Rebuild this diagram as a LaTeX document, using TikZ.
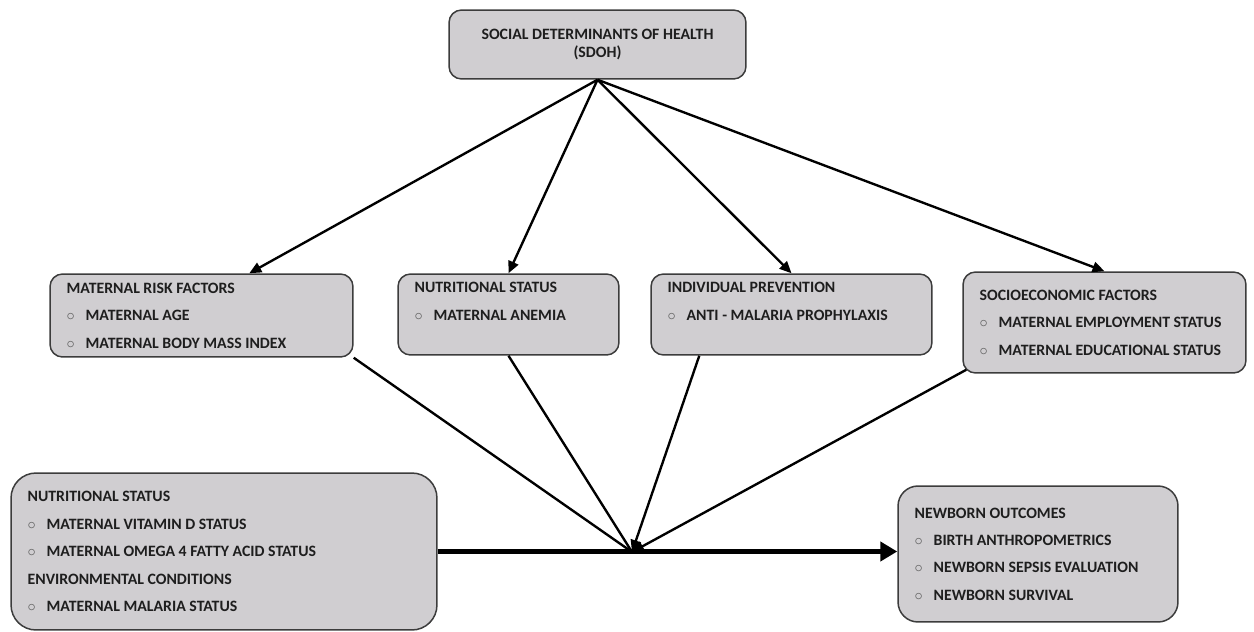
\documentclass[tikz,border=0pt]{standalone}
\usepackage{fontspec}
\setmainfont{Carlito}
\usetikzlibrary{positioning, arrows.meta, calc}
\definecolor{cBox}{RGB}{208, 206, 209}
\definecolor{cBorder}{RGB}{60, 60, 60}
\definecolor{cText}{RGB}{30, 30, 30}
\definecolor{cBullet}{RGB}{95, 95, 95}

\begin{document}
\begin{tikzpicture}[
    x=0.02cm,
    y=-0.02cm,
    font=\bfseries\fontsize{9}{15.6}\selectfont,
    factor/.style={draw=cBorder, line width=0.85pt, fill=cBox, rounded corners=0.25cm, inner sep=0pt},
    factortext/.style={align=left, text=cText, inner xsep=0.34cm, inner ysep=0pt},
    link/.style={line width=1.35pt},
    linkarrow/.style={line width=1.35pt, -{Triangle[length=2.4mm, width=2.1mm]}}
]

    % --- Makro fuer Aufzaehlungspunkte ---
    \newcommand{\bulletItem}[1]{\makebox[0.38cm][l]{\textcolor{cBullet}{$\circ$}}#1}

    \useasboundingbox (0,0) rectangle (1254,632);

    % OBEN: SDOH
    \node[factor, align=center, text=cText, font=\bfseries\fontsize{9}{10.8}\selectfont,
          minimum width=5.94cm, minimum height=1.38cm] (sdoh) at (597.5,44.5)
          {SOCIAL DETERMINANTS OF HEALTH\\(SDOH)};

    % MITTE: vier Faktoren
    \node[factor, minimum width=6.06cm, minimum height=1.66cm] (maternal) at (201.5,315.5) {};
    \node[factortext, right=0pt of maternal.west] (maternal_text)
          {MATERNAL RISK FACTORS\\\bulletItem{MATERNAL AGE}\\\bulletItem{MATERNAL BODY MASS INDEX}};

    \node[factor, minimum width=4.42cm, minimum height=1.62cm] (nutrition) at (508.5,314.5) {};
    \node[factortext, anchor=north west] (nutrition_text) at ($(nutrition.north west)+(0,9)$)
          {NUTRITIONAL STATUS\\\bulletItem{MATERNAL ANEMIA}};

    \node[factor, minimum width=5.62cm, minimum height=1.62cm] (prevention) at (791.5,314.5) {};
    \node[factortext, anchor=north west] (prevention_text) at ($(prevention.north west)+(0,9)$)
          {INDIVIDUAL PREVENTION\\\bulletItem{ANTI - MALARIA PROPHYLAXIS}};

    \node[factor, minimum width=5.66cm, minimum height=2.02cm] (socio) at (1104.5,322.5) {};
    \node[factortext, right=0pt of socio.west] (socio_text)
          {SOCIOECONOMIC FACTORS\\\bulletItem{MATERNAL EMPLOYMENT STATUS}\\\bulletItem{MATERNAL EDUCATIONAL STATUS}};

    % UNTEN: Exposition und Outcome
    \node[factor, rounded corners=0.5cm, minimum width=8.52cm, minimum height=3.14cm] (nutenv) at (224,551.5) {};
    \node[factortext, right=0pt of nutenv.west] (nutenv_text)
          {NUTRITIONAL STATUS\\\bulletItem{MATERNAL VITAMIN D STATUS}\\\bulletItem{MATERNAL OMEGA 4 FATTY ACID STATUS}\\ENVIRONMENTAL CONDITIONS\\\bulletItem{MATERNAL MALARIA STATUS}};

    \node[factor, rounded corners=0.4cm, minimum width=5.6cm, minimum height=2.72cm] (newborn) at (1038,554) {};
    \node[factortext, right=0pt of newborn.west] (newborn_text)
          {NEWBORN OUTCOMES\\\bulletItem{BIRTH ANTHROPOMETRICS}\\\bulletItem{NEWBORN SEPSIS EVALUATION}\\\bulletItem{NEWBORN SURVIVAL}};

    % Pfeile von SDOH nach unten
    \draw[linkarrow] (sdoh.south) -- ($(maternal.north west)+(200,0)$);
    \draw[linkarrow] (sdoh.south) -- (nutrition.north);
    \draw[linkarrow] (sdoh.south) -- (prevention.north);
    \draw[linkarrow] (sdoh.south) -- (socio.north);

    % Linien zum Knotenpunkt auf dem Hauptpfeil
    \coordinate (hub) at (632,552);
    \draw[link] (maternal.south east) -- (hub);
    \draw[link] (nutrition.south) -- (hub);
    \draw[linkarrow] ($(prevention.south west)+(49,0)$) -- (hub);
    \draw[linkarrow] ($(socio.south west)+(4,-4)$) -- (hub);

    % Hauptpfeil
    \draw[line width=2.5pt, -{Triangle[length=3.4mm, width=3.8mm]}] (nutenv.east) -- (nutenv.east -| newborn.west);

\end{tikzpicture}
\end{document}
